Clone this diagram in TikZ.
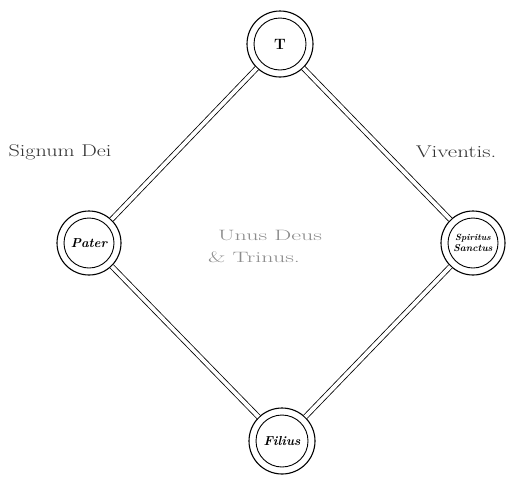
\documentclass[tikz,border=0pt]{standalone}
\begin{document}
\begin{tikzpicture}[x=1pt,y=-1pt,
  outerc/.style={circle,draw,line width=1.1pt,minimum size=66pt,inner sep=0pt},
  innerc/.style={circle,draw,line width=0.9pt,minimum size=52pt,inner sep=0pt},
  link/.style={draw=black,line width=0.8pt,double=white,double distance=3.8pt},
  lbl/.style={font=\fontsize{17}{17}\selectfont,text=black!80},
  mid/.style={font=\fontsize{15}{15}\selectfont,text=black!45}]
\useasboundingbox (0,0) rectangle (518,485);
\node[outerc] (T) at (280,44) {};
\node[innerc] at (T) {\fontsize{15}{15}\selectfont\bfseries T};
\node[outerc,minimum size=64pt] (P) at (89,243) {};
\node[innerc,minimum size=50pt] at (P) {\fontsize{13}{13}\selectfont\bfseries\itshape Pater};
\node[outerc,minimum size=64pt] (S) at (473,243) {};
\node[innerc,minimum size=50pt,align=center] at (S) {\fontsize{9}{9}\selectfont\bfseries\itshape Spiritus\\[-1pt]\bfseries\itshape Sanctus};
\node[outerc,minimum size=66pt] (F) at (282,441) {};
\node[innerc] at (F) {\fontsize{13}{13}\selectfont\bfseries\itshape Filius};
\draw[link] (T) -- (P);
\draw[link] (T) -- (S);
\draw[link] (P) -- (F);
\draw[link] (S) -- (F);
\node[lbl] (sd) at (60,152) {\scalebox{1.3}[1]{Signum Dei}};
\node[lbl] (vv) at (456,152) {\scalebox{1.35}[1]{Viventis.}};
\node[mid] (u1) at (270,235) {\scalebox{1.6}[1]{Unus Deus}};
\node[mid] (u2) at (254,257) {\scalebox{1.6}[1]{\& Trinus.}};
\end{tikzpicture}
\end{document}
